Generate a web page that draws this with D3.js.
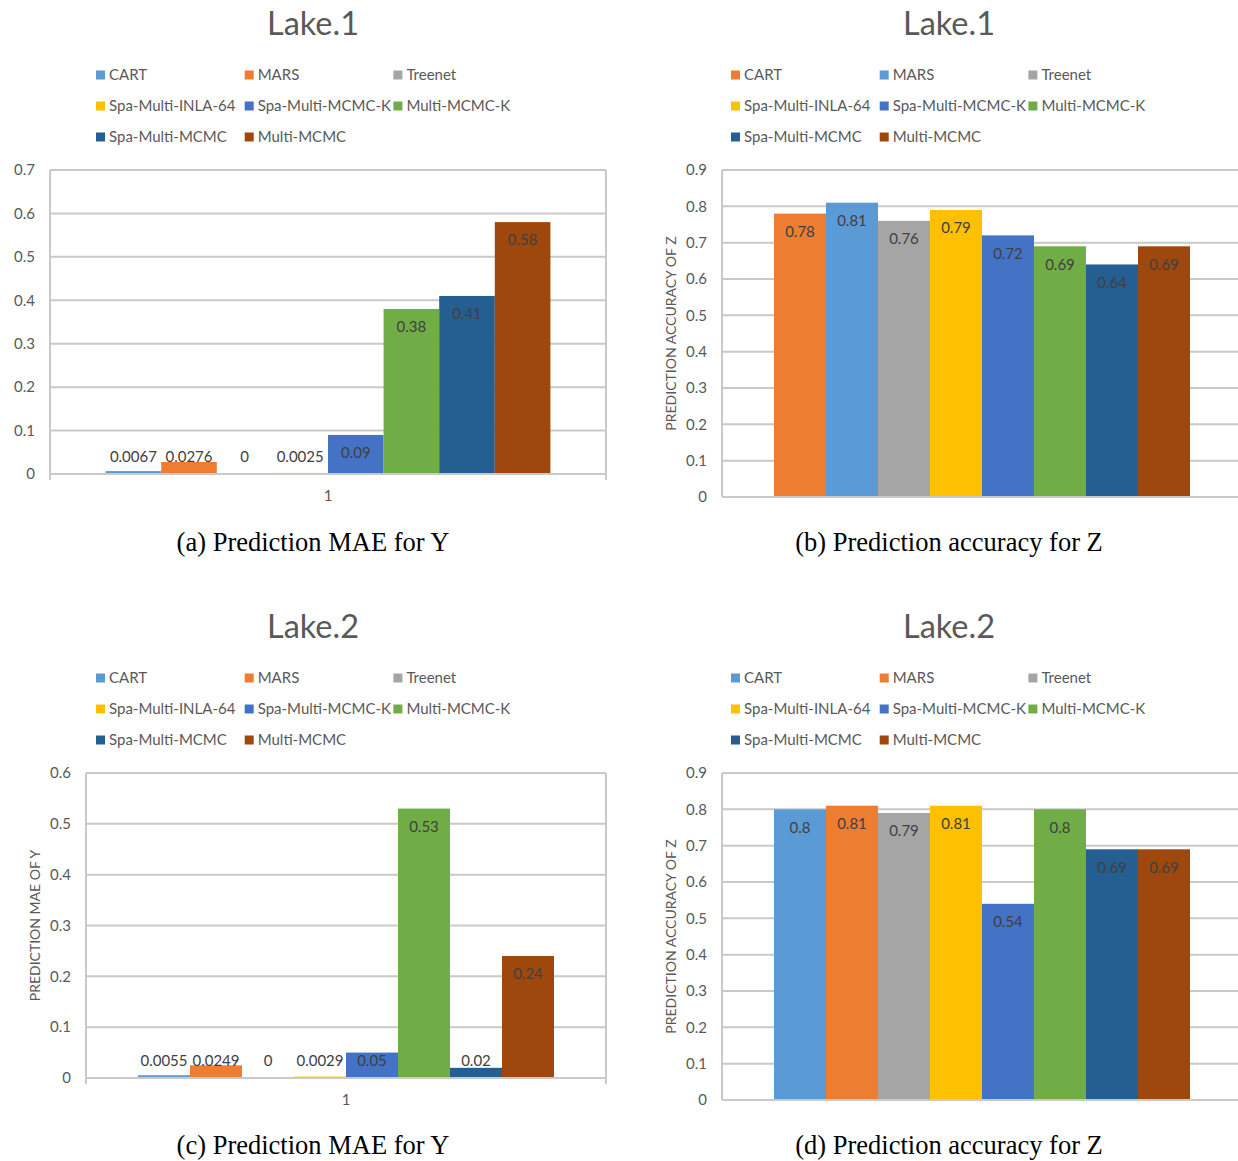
<!DOCTYPE html>
<html>
<head>
<meta charset="utf-8">
<script src="https://cdn.jsdelivr.net/npm/d3@7"></script>
<style>
  html, body { margin: 0; padding: 0; background: #fff; }
  svg { display: block; }
</style>
</head>
<body>
<svg id="fig" width="1238" height="1161"></svg>
<script>
// Methods compared in every panel
const methods = ["CART", "MARS", "Treenet", "Spa-Multi-INLA-64",
                 "Spa-Multi-MCMC-K", "Multi-MCMC-K", "Spa-Multi-MCMC", "Multi-MCMC"];
const category = ["1"];

// Results per lake
const maeLake1 = [0.0067, 0.0276, 0, 0.0025, 0.09, 0.38, 0.41, 0.58];
const accLake1 = [0.78, 0.81, 0.76, 0.79, 0.72, 0.69, 0.64, 0.69];
const maeLake2 = [0.0055, 0.0249, 0, 0.0029, 0.05, 0.53, 0.02, 0.24];
const accLake2 = [0.8, 0.81, 0.79, 0.81, 0.54, 0.8, 0.69, 0.69];

// Y-axis tick values
const ticksMae1 = [0, 0.1, 0.2, 0.3, 0.4, 0.5, 0.6, 0.7];
const ticksMae2 = [0, 0.1, 0.2, 0.3, 0.4, 0.5, 0.6];
const ticksAcc = [0, 0.1, 0.2, 0.3, 0.4, 0.5, 0.6, 0.7, 0.8, 0.9];

// Office palette; the Lake.1 accuracy chart has CART/MARS colours swapped
const palette = ["#5B9BD5", "#ED7D31", "#A5A5A5", "#FFC000", "#4472C4", "#70AD47", "#255E91", "#9E480E"];
const paletteSwap = ["#ED7D31", "#5B9BD5", "#A5A5A5", "#FFC000", "#4472C4", "#70AD47", "#255E91", "#9E480E"];

const svg = d3.select("#fig");
const UI_FONT = "Lato, 'Open Sans', sans-serif";
const TXT = "#595959";
const GRID = "#c9c9c9";

function drawPanel(cfg) {
  const g = svg.append("g");
  const ymax = d3.max(cfg.ticks);
  const y = d3.scaleLinear().domain([0, ymax]).range([cfg.bottom, cfg.top]);
  const xCat = d3.scaleBand().domain(category).range([cfg.left, cfg.right]).padding(0);
  const xSer = d3.scaleBand().domain(methods).range([0, xCat.bandwidth()])
    .paddingInner(0).paddingOuter(1);

  // title
  g.append("text").attr("x", cfg.cx).attr("y", cfg.top - 135)
    .attr("text-anchor", "middle").attr("font-family", UI_FONT)
    .attr("font-size", 32.5).attr("fill", TXT).text(cfg.title);

  // legend, three per row
  const leg = g.append("g");
  methods.forEach((m, i) => {
    const col = i % 3, row = Math.floor(i / 3);
    const lx = cfg.legendX + col * 148.7, ly = cfg.top - 95 + row * 31;
    leg.append("rect").attr("x", lx).attr("y", ly - 4.5).attr("width", 9).attr("height", 9)
      .attr("fill", cfg.colors[i]);
    leg.append("text").attr("x", lx + 13).attr("y", ly).attr("dy", "0.35em")
      .attr("font-family", UI_FONT).attr("font-size", 15).attr("fill", TXT).text(m);
  });

  // gridlines
  g.append("g").selectAll("line").data(cfg.ticks.filter(t => t > 0)).join("line")
    .attr("x1", cfg.left).attr("x2", cfg.right)
    .attr("y1", d => y(d)).attr("y2", d => y(d))
    .attr("stroke", GRID).attr("stroke-width", 2);

  // y tick labels
  g.append("g").selectAll("text").data(cfg.ticks).join("text")
    .attr("x", cfg.left - 15).attr("y", d => y(d)).attr("dy", "0.35em")
    .attr("text-anchor", "end").attr("font-family", UI_FONT).attr("font-size", 15)
    .attr("fill", TXT).text(d => String(Math.round(d * 10) / 10));

  // y axis title
  if (cfg.yTitle) {
    g.append("text")
      .attr("transform", `translate(${cfg.yTitleX},${(cfg.top + cfg.bottom) / 2}) rotate(-90)`)
      .attr("text-anchor", "middle").attr("dy", "0.35em")
      .attr("font-family", UI_FONT).attr("font-size", 14).attr("fill", TXT).text(cfg.yTitle);
  }

  // bars
  const bars = g.append("g");
  category.forEach(c => {
    bars.selectAll("rect.bar").data(cfg.values).join("rect").attr("class", "bar")
      .attr("x", (d, i) => xCat(c) + xSer(methods[i]))
      .attr("width", xSer.bandwidth())
      .attr("y", d => y(d))
      .attr("height", d => y(0) - y(d))
      .attr("fill", (d, i) => cfg.colors[i]);
  });

  // frame: left, top, right borders + axis line
  const fr = g.append("g").attr("stroke", GRID).attr("stroke-width", 2).attr("fill", "none");
  fr.append("line").attr("x1", cfg.left).attr("x2", cfg.right).attr("y1", cfg.top).attr("y2", cfg.top);
  fr.append("line").attr("x1", cfg.left).attr("x2", cfg.left).attr("y1", cfg.top).attr("y2", cfg.bottom + cfg.tick);
  fr.append("line").attr("x1", cfg.right).attr("x2", cfg.right).attr("y1", cfg.top).attr("y2", cfg.bottom + cfg.tick);
  fr.append("line").attr("x1", cfg.left).attr("x2", cfg.right).attr("y1", y(0)).attr("y2", y(0));

  // data labels: inside top of bar, lifted above the axis for short bars
  category.forEach(c => {
    g.append("g").selectAll("text").data(cfg.values).join("text")
      .attr("x", (d, i) => xCat(c) + xSer(methods[i]) + xSer.bandwidth() / 2)
      .attr("y", d => Math.min(y(d) + 18, y(0) - 17))
      .attr("dy", "0.35em").attr("text-anchor", "middle")
      .attr("font-family", UI_FONT).attr("font-size", 15).attr("fill", "#404040")
      .text(d => String(d));
  });

  // category label
  if (cfg.showCategory) {
    g.append("g").selectAll("text").data(category).join("text")
      .attr("x", d => xCat(d) + xCat.bandwidth() / 2).attr("y", cfg.bottom + 22)
      .attr("dy", "0.35em").attr("text-anchor", "middle")
      .attr("font-family", UI_FONT).attr("font-size", 15).attr("fill", TXT).text(d => d);
  }

  // caption
  g.append("text").attr("x", cfg.cx).attr("y", cfg.captionY)
    .attr("text-anchor", "middle").attr("font-family", "'Liberation Serif', 'Times New Roman', serif")
    .attr("font-size", 26.5).attr("fill", "#000").text(cfg.caption);
}

drawPanel({ title: "Lake.1", values: maeLake1, ticks: ticksMae1, colors: palette,
  left: 50, right: 606, top: 170, bottom: 474, tick: 6, cx: 313, legendX: 96,
  showCategory: true, caption: "(a) Prediction MAE for Y", captionY: 551 });
drawPanel({ title: "Lake.1", values: accLake1, ticks: ticksAcc, colors: paletteSwap,
  left: 722, right: 1242, top: 170, bottom: 497, tick: 0, cx: 949, legendX: 731,
  yTitle: "PREDICTION ACCURACY OF Z", yTitleX: 671,
  showCategory: false, caption: "(b) Prediction accuracy for Z", captionY: 551 });
drawPanel({ title: "Lake.2", values: maeLake2, ticks: ticksMae2, colors: palette,
  left: 86, right: 606, top: 773, bottom: 1078, tick: 6, cx: 313, legendX: 96,
  yTitle: "PREDICTION MAE OF Y", yTitleX: 35,
  showCategory: true, caption: "(c) Prediction MAE for Y", captionY: 1154 });
drawPanel({ title: "Lake.2", values: accLake2, ticks: ticksAcc, colors: palette,
  left: 722, right: 1242, top: 773, bottom: 1100, tick: 0, cx: 949, legendX: 731,
  yTitle: "PREDICTION ACCURACY OF Z", yTitleX: 671,
  showCategory: false, caption: "(d) Prediction accuracy for Z", captionY: 1154 });
</script>
</body>
</html>
